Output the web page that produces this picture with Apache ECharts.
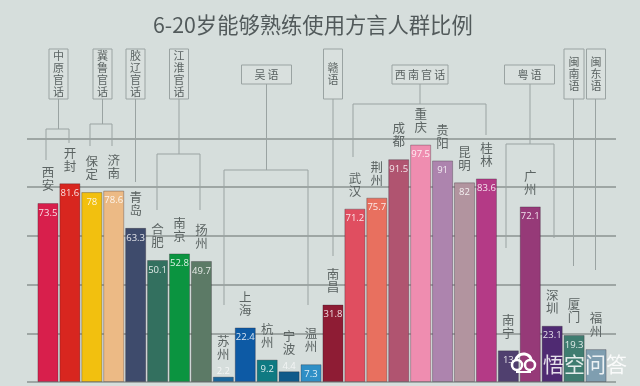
<!DOCTYPE html>
<html><head><meta charset="utf-8">
<style>html,body{margin:0;padding:0;background:#d6dedc}#c{width:640px;height:386px}</style>
<script src="https://cdn.jsdelivr.net/npm/echarts@6/dist/echarts.min.js"></script>
</head><body><div id="c"></div>
<script>
const cities = ['西安','开封','保定','济南','青岛','合肥','南京','扬州','苏州','上海','杭州','宁波','温州','南昌','武汉','荆州','成都','重庆','贵阳','昆明','桂林','南宁','广州','深圳','厦门','福州'];
const values = [73.5,81.6,78,78.6,63.3,50.1,52.8,49.7,2.2,22.4,9.2,4.4,7.3,31.8,71.2,75.7,91.5,97.5,91,82,83.6,13,72.1,23.1,19.3,13.5];
const valueLabels = ['73.5','81.6','78','78.6','63.3','50.1','52.8','49.7','2.2','22.4','9.2','4.4','7.3','31.8','71.2','75.7','91.5','97.5','91','82','83.6','13','72.1','23.1','19.3',''];
const colors = ['#d81f4c','#d8261f','#f2c00f','#ecba85','#3e4b6c','#33705f','#0b9440','#5c7a66','#1a669a','#0d5aa5','#0f7a82','#0f5a8a','#2f8fc6','#8e1c34','#e04e60','#e8705f','#b05470','#ef8db0','#ad84ae','#b2949f','#b43a86','#50406f','#963a78','#4f2a72','#3f7c70','#7f9eb0'];
const yTicks = [0,20,40,60,80,100];
const title = '6-20岁能够熟练使用方言人群比例';
const wm = '悟空问答';
const LINE = '#9aa3a2', INK = '#5c6463';
const tinyBars = ['苏州','宁波'];
const groups = [
  {t:'中\n原\n官\n话',b:[49,49,19,50],stem:[58.5,99,129],br:[46,69,129],legs:[[46,160],[69,143]]},
  {t:'冀\n鲁\n官\n话',b:[93,49,19,50],stem:[102.5,99,124],br:[90,112,124],legs:[[90,146],[112,146]]},
  {t:'胶\n辽\n官\n话',b:[126,49,19,50],stem:[135.5,99,182]},
  {t:'江\n淮\n官\n话',b:[169.5,49,19,50],stem:[179,99,154],br:[157,200,154],legs:[[157,210],[200,210]]},
  {t:'吴语',b:[241.5,65,50,19],stem:[266.5,84,170],br:[224,308,170],legs:[[224,305],[308,305]]},
  {t:'赣\n语',b:[323.5,49,19,50],stem:[333,99,256]},
  {t:'西南官话',b:[392,65,56,19],stem:[420,84,104],br:[353,486,104],legs:[[353,157],[486,135]]},
  {t:'粤语',b:[504.5,65,50,19],stem:[530,84,144],br:[506,554,144],legs:[[506,248],[554,238]]},
  {t:'闽\n南\n语',b:[564,49,20,50],stem:[573.5,99,266]},
  {t:'闽\n东\n语',b:[586.5,49,19,50],stem:[595.5,99,270]}
];
const line=(x1,y1,x2,y2)=>({type:'line',z:1,silent:true,shape:{x1,y1,x2,y2},style:{stroke:LINE,lineWidth:1}});
const gfx=[];
groups.forEach(g=>{
  const [x,y,w,h]=g.b;
  gfx.push({type:'rect',z:2,shape:{x,y,width:w,height:h},style:{fill:'#d9e0de',stroke:LINE,lineWidth:1}});
  const horiz = w>h;
  gfx.push({type:'text',z:3,style:{x:x+w/2,y:y+h/2,text:horiz?g.t.split('').join('\u2009'):g.t,fill:INK,fontFamily:'"Noto Sans CJK SC"',fontSize:11,lineHeight:12,align:'center',verticalAlign:'middle'}});
  gfx.push(line(g.stem[0],g.stem[1],g.stem[0],g.stem[2]));
  if(g.br){
    gfx.push(line(g.br[0],g.br[2],g.br[1],g.br[2]));
    g.legs.forEach(l=>gfx.push(line(l[0],g.br[2],l[0],l[1])));
  }
});
gfx.push({type:'text',z:5,style:{x:153,y:25,text:title,fill:'#525a5b',fontFamily:'"Noto Sans CJK SC"',fontSize:21.3,verticalAlign:'middle'}});
// watermark
gfx.push({type:'text',z:20,style:{x:543,y:364,text:wm,fill:'rgba(255,255,255,0.85)',fontFamily:'"Noto Sans CJK SC"',fontSize:21,verticalAlign:'middle'}});
gfx.push({type:'group',z:20,children:[
  {type:'circle',z:20,shape:{cx:517,cy:365,r:5},style:{fill:'none',stroke:'#fff',lineWidth:2.5}},
  {type:'circle',z:20,shape:{cx:530,cy:365,r:5},style:{fill:'none',stroke:'#fff',lineWidth:2.5}},
  {type:'arc',z:20,shape:{cx:523.5,cy:362,r:8,startAngle:Math.PI*1.05,endAngle:Math.PI*1.95},style:{fill:'none',stroke:'#fff',lineWidth:3}},
  {type:'rect',z:20,shape:{x:516,y:371,width:15,height:2},style:{fill:'#fff'}}
]});
const chart=echarts.init(document.getElementById('c'),null,{renderer:'canvas'});
chart.setOption({
  animation:false,
  backgroundColor:'#d6dedc',
  grid:[
    {left:37,width:570,top:138.5,bottom:4},
    {left:27,width:589,top:138.5,bottom:4}
  ],
  xAxis:[
    {type:'category',data:cities,gridIndex:0,axisLine:{show:false},axisTick:{show:false},axisLabel:{show:false},splitLine:{show:false}},
    {type:'category',data:cities,gridIndex:1,show:false}
  ],
  yAxis:[
    {type:'value',gridIndex:0,min:0,max:100,interval:20,show:false,splitLine:{show:false}},
    {type:'value',gridIndex:1,min:yTicks[0],max:yTicks[yTicks.length-1],interval:20,axisLine:{show:false},axisTick:{show:false},axisLabel:{show:false},
     splitLine:{show:true,lineStyle:{color:'#8b9392',width:1.5}}}
  ],
  graphic:{elements:gfx},
  series:[
    {type:'bar',xAxisIndex:0,yAxisIndex:0,barWidth:'96%',barGap:'-100%',silent:true,z:3,
     data:values.map((v,i)=>{
       const tiny=tinyBars.includes(cities[i]);
       return {value:v,itemStyle:{color:colors[i],borderColor:'rgba(40,30,40,0.3)',borderWidth:1},
         label:tiny?{position:'top',distance:0,color:'rgba(255,255,255,0.7)'}:undefined};
     }),
     label:{show:true,position:'insideTop',distance:5,color:'rgba(255,255,255,0.85)',fontSize:9.5,fontFamily:'"Open Sans"',
       formatter:p=>valueLabels[p.dataIndex]}},
    {type:'bar',xAxisIndex:0,yAxisIndex:0,barWidth:'96%',barGap:'-100%',silent:true,z:4,
     data:values.map((v,i)=>({value:v,label:tinyBars.includes(cities[i])?{distance:16}:undefined})),
     itemStyle:{color:'transparent'},
     label:{show:true,position:'top',distance:11,color:INK,fontSize:12.5,lineHeight:13,fontFamily:'"Noto Sans CJK SC"',
       formatter:p=>cities[p.dataIndex].split('').join('\n')}}
  ]
});
</script></body></html>
